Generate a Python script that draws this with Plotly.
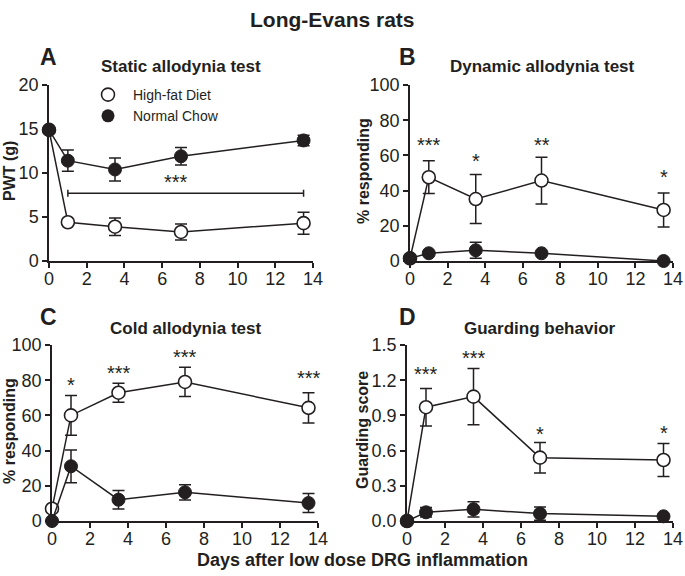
import plotly.graph_objects as go

# dias de medicion
dias = [0, 1, 3.5, 7, 13.5]

# A - Static allodynia (PWT, g)
pwt_hfd = [14.9, 4.4, 3.9, 3.3, 4.3]
pwt_hfd_err = [0.0, 0.3, 1.0, 0.9, 1.25]
pwt_nc = [14.9, 11.4, 10.4, 11.9, 13.7]
pwt_nc_err = [0.0, 1.2, 1.3, 1.0, 0.6]

# B - Dynamic allodynia (% responding)
din_hfd = [1.5, 47.6, 35.2, 45.7, 29.0]
din_hfd_err = [0.0, 9.3, 13.9, 13.3, 9.7]
din_nc = [1.5, 4.4, 6.1, 4.4, 0.0]
din_nc_err = [0.0, 0.0, 4.5, 0.0, 0.0]

# C - Cold allodynia (% responding)
frio_hfd = [7.0, 60.0, 72.9, 79.0, 64.3]
frio_hfd_err = [0.0, 11.3, 5.4, 8.3, 8.6]
frio_nc = [0.0, 31.1, 12.1, 16.3, 10.2]
frio_nc_err = [0.0, 9.3, 5.3, 4.3, 5.4]

# D - Guarding score
guard_hfd = [0.0, 0.97, 1.06, 0.54, 0.52]
guard_hfd_err = [0.0, 0.16, 0.24, 0.13, 0.14]
guard_nc = [0.0, 0.074, 0.10, 0.063, 0.04]
guard_nc_err = [0.0, 0.04, 0.065, 0.057, 0.0]

# asteriscos de significancia
star_b_x = [1, 3.5, 7, 13.5]
star_b_y = [66, 57, 66, 48]
star_b_txt = ['***', '*', '**', '*']
star_c_x = [1, 3.5, 7, 13.5]
star_c_y = [77, 84, 93, 81]
star_c_txt = ['*', '***', '***', '***']
star_d_x = [1, 3.5, 7, 13.5]
star_d_y = [1.25, 1.39, 0.74, 0.75]
star_d_txt = ['***', '***', '*', '*']

# barra de significancia del panel A
barra_a_x = [1, 13.5]
barra_a_y = 7.7
barra_a_txt = '***'

NEGRO = '#231f20'
FUENTE = 'Liberation Sans Narrow, Arial Narrow, Liberation Sans, Arial'
FUENTE_B = 'Liberation Sans, Arial'

paneles = [
    ('x', 'y', pwt_hfd, pwt_hfd_err, pwt_nc, pwt_nc_err),
    ('x2', 'y2', din_hfd, din_hfd_err, din_nc, din_nc_err),
    ('x3', 'y3', frio_hfd, frio_hfd_err, frio_nc, frio_nc_err),
    ('x4', 'y4', guard_hfd, guard_hfd_err, guard_nc, guard_nc_err),
]

fig = go.Figure()

for xa, ya, hfd, hfd_err, nc, nc_err in paneles:
    fig.add_trace(go.Scatter(
        x=dias, y=hfd, xaxis=xa, yaxis=ya, mode='lines+markers',
        line=dict(color=NEGRO, width=1.5),
        marker=dict(symbol='circle', size=13, color='white', line=dict(color=NEGRO, width=1.6)),
        error_y=dict(type='data', array=hfd_err, color=NEGRO, thickness=1.5, width=6),
        showlegend=False, cliponaxis=False
    ))
    fig.add_trace(go.Scatter(
        x=dias, y=nc, xaxis=xa, yaxis=ya, mode='lines+markers',
        line=dict(color=NEGRO, width=1.5),
        marker=dict(symbol='circle', size=13, color=NEGRO, line=dict(color=NEGRO, width=1)),
        error_y=dict(type='data', array=nc_err, color=NEGRO, thickness=1.5, width=6),
        showlegend=False, cliponaxis=False
    ))

# trazas solo para la leyenda
fig.add_trace(go.Scatter(
    x=[None], y=[None], mode='markers', name='High-fat Diet',
    marker=dict(symbol='circle', size=13, color='white', line=dict(color=NEGRO, width=1.6))
))
fig.add_trace(go.Scatter(
    x=[None], y=[None], mode='markers', name='Normal Chow',
    marker=dict(symbol='circle', size=13, color=NEGRO)
))

W, H = 685, 576

def px_x(v):
    return v / W

def px_y(v):
    return 1 - v / H

ejes_x = dict(range=[0, 14], tickvals=[0, 2, 4, 6, 8, 10, 12, 14], ticks='outside', ticklen=5,
              tickwidth=1.5, tickcolor=NEGRO, showline=True, linewidth=1.5, linecolor=NEGRO,
              showgrid=False, zeroline=False, automargin=False, ticklabelstandoff=-4,
              tickfont=dict(family=FUENTE, size=18, color=NEGRO))
ejes_y = dict(ticks='outside', ticklen=5, tickwidth=1.5, tickcolor=NEGRO, showline=True,
              linewidth=1.5, linecolor=NEGRO, showgrid=False, zeroline=False, automargin=False,
              tickfont=dict(family=FUENTE, size=18, color=NEGRO))

fig.update_layout(
    width=W, height=H,
    margin=dict(l=0, r=0, t=0, b=0),
    paper_bgcolor='white', plot_bgcolor='white',
    font=dict(family=FUENTE_B, color=NEGRO),
    xaxis=dict(domain=[px_x(49), px_x(313)], anchor='y', **ejes_x),
    yaxis=dict(domain=[px_y(261), px_y(85)], anchor='x', range=[0, 20],
               tickvals=[0, 5, 10, 15, 20], **ejes_y),
    xaxis2=dict(domain=[px_x(410), px_x(673)], anchor='y2', **ejes_x),
    yaxis2=dict(domain=[px_y(261), px_y(85)], anchor='x2', range=[0, 100],
                tickvals=[0, 20, 40, 60, 80, 100], **ejes_y),
    xaxis3=dict(domain=[px_x(52), px_x(318)], anchor='y3', **ejes_x),
    yaxis3=dict(domain=[px_y(521), px_y(345)], anchor='x3', range=[0, 100],
                tickvals=[0, 20, 40, 60, 80, 100], **ejes_y),
    xaxis4=dict(domain=[px_x(407), px_x(673)], anchor='y4', **ejes_x),
    yaxis4=dict(domain=[px_y(521), px_y(345)], anchor='x4', range=[0, 1.5],
                tickvals=[0, 0.3, 0.6, 0.9, 1.2, 1.5], tickformat='.1f', **ejes_y),
    legend=dict(x=px_x(83), y=px_y(79), xanchor='left', yanchor='top', itemwidth=40,
                font=dict(family=FUENTE_B, size=14, color=NEGRO),
                bgcolor='rgba(0,0,0,0)', tracegroupgap=0),
)

# barra de significancia del panel A
fig.add_shape(type='line', xref='x', yref='y', x0=barra_a_x[0], x1=barra_a_x[1],
              y0=barra_a_y, y1=barra_a_y, line=dict(color=NEGRO, width=1.5))
for bx in barra_a_x:
    fig.add_shape(type='line', xref='x', yref='y', x0=bx, x1=bx,
                  y0=barra_a_y - 0.4, y1=barra_a_y + 0.4, line=dict(color=NEGRO, width=1.5))
fig.add_annotation(x=sum(barra_a_x) / 2 - 0.5, y=barra_a_y, xref='x', yref='y', text=barra_a_txt,
                   showarrow=False, yanchor='bottom', yshift=-2, font=dict(size=20, color=NEGRO))

for xr, yr, xs, ys, ts in [('x2', 'y2', star_b_x, star_b_y, star_b_txt),
                           ('x3', 'y3', star_c_x, star_c_y, star_c_txt),
                           ('x4', 'y4', star_d_x, star_d_y, star_d_txt)]:
    for sx, sy, st in zip(xs, ys, ts):
        fig.add_annotation(x=sx, y=sy, xref=xr, yref=yr, text=st, showarrow=False,
                           font=dict(size=20, color=NEGRO))

# textos en coordenadas de papel (pixeles)
textos = [
    ('Long-Evans rats', 332, 20, 21, True, 0),
    ('A', 48, 57, 23, True, 0),
    ('B', 407, 57, 23, True, 0),
    ('C', 49, 317, 23, True, 0),
    ('D', 407, 317, 23, True, 0),
    ('Static allodynia test', 181, 67, 17, True, 0),
    ('Dynamic allodynia test', 542, 67, 17, True, 0),
    ('Cold allodynia test', 185, 328, 17, True, 0),
    ('Guarding behavior', 540, 328, 17, True, 0),
    ('PWT (g)', 9, 171, 16, True, -90),
    ('% responding', 363, 171, 16, True, -90),
    ('% responding', 9, 431, 16, True, -90),
    ('Guarding score', 362, 430, 16, True, -90),
    ('Days after low dose DRG inflammation', 362, 560, 18, True, 0),
]
for txt, tx, ty, tam, negrita, ang in textos:
    fig.add_annotation(x=px_x(tx), y=px_y(ty), xref='paper', yref='paper',
                       text=f'<b>{txt}</b>' if negrita else txt, showarrow=False,
                       textangle=ang, xanchor='center', yanchor='middle',
                       font=dict(family=FUENTE_B, size=tam, color=NEGRO))

# sin margen del body para que la figura empiece en (0, 0)
fig.write_html("out.html", config={'displayModeBar': False},
               post_script="document.body.style.margin='0px';")
